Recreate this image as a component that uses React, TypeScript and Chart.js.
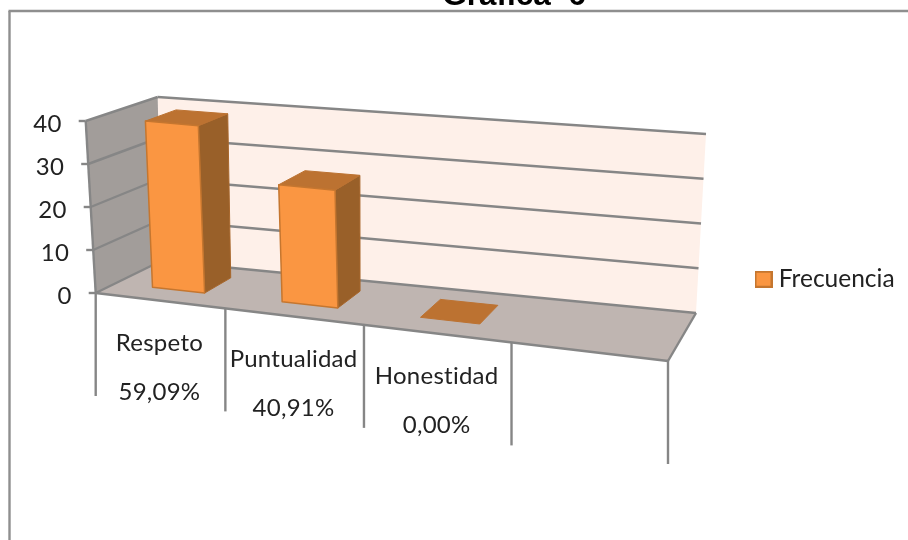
import React, { useEffect, useRef } from "react";
import { Chart, registerables } from "chart.js";

Chart.register(...registerables);

const categories = ["Respeto", "Puntualidad", "Honestidad", ""];
const percentages = ["59,09%", "40,91%", "0,00%", ""];
const frecuencia = [39, 27, 0, null];
const seriesName = "Frecuencia";
const chartTitle = "Gráfica  6";

// 3D box of the plot (pixel corners of the projection)
const box = {
  f0: [95.7, 293], f1: [668, 361], b0: [161, 261], b1: [696, 313],
  ft0: [85.7, 121], ft1: [666, 177], bt0: [157.7, 97], bt1: [706, 134],
};
const BAR_D0 = 0.31;
const BAR_D1 = 0.75;
const GRID = "#868686";
const TEXT = "#222222";
const BAR_FILL = "#FA9642";
const BAR_EDGE = "#C5762F";

type Pt = number[];
const mix = (a: Pt, b: Pt, t: number): Pt => [a[0] + (b[0] - a[0]) * t, a[1] + (b[1] - a[1]) * t];
const warp = (u: number) => u * (0.875 + 0.125 * u);
function project(u: number, v: number, d: number): Pt {
  const w = warp(u);
  const front0 = mix(box.f0, box.f1, w);
  const front1 = mix(box.ft0, box.ft1, w);
  const back0 = mix(box.b0, box.b1, w);
  const back1 = mix(box.bt0, box.bt1, w);
  return mix(mix(front0, back0, d), mix(front1, back1, d), v);
}

function poly(ctx: CanvasRenderingContext2D, pts: Pt[], fill: string, stroke?: string, lw = 1) {
  ctx.beginPath();
  pts.forEach((p, i) => (i ? ctx.lineTo(p[0], p[1]) : ctx.moveTo(p[0], p[1])));
  ctx.closePath();
  ctx.fillStyle = fill;
  ctx.fill();
  if (stroke) {
    ctx.strokeStyle = stroke;
    ctx.lineWidth = lw;
    ctx.lineJoin = "round";
    ctx.stroke();
  }
}
function seg(ctx: CanvasRenderingContext2D, a: Pt, b: Pt, color = GRID, lw = 2.4) {
  ctx.beginPath();
  ctx.moveTo(a[0], a[1]);
  ctx.lineTo(b[0], b[1]);
  ctx.strokeStyle = color;
  ctx.lineWidth = lw;
  ctx.stroke();
}

function legendSwatch() {
  const c = document.createElement("canvas");
  c.width = 18;
  c.height = 17;
  const g = c.getContext("2d")!;
  g.fillStyle = BAR_FILL;
  g.fillRect(0, 0, 18, 17);
  g.strokeStyle = BAR_EDGE;
  g.lineWidth = 2;
  g.strokeRect(1, 1, 16, 15);
  return c;
}

const scene3d = {
  id: "scene3d",
  beforeDraw(chart: any) {
    // place the native legend where the reference has it
    const lg = chart.legend;
    const h = lg.bottom - lg.top;
    const w = lg.right - lg.left;
    lg.left = 750.5;
    lg.right = 750.5 + w;
    lg.top = 257;
    lg.bottom = 257 + h;
  },
  beforeDatasetsDraw(chart: any) {
    const { ctx, chartArea: ca, scales } = chart;
    const xs = scales.x;
    const ys = scales.y;
    ctx.save();
    // frame
    seg(ctx, [9.5, 540], [9.5, 11], "#8f8f8f", 2.4);
    seg(ctx, [8.5, 11], [908, 11], "#8f8f8f", 2.4);
    // title
    ctx.fillStyle = "#000";
    ctx.font = "bold 31.5px 'Liberation Sans'";
    ctx.textAlign = "center";
    ctx.textBaseline = "alphabetic";
    ctx.fillText(chartTitle, 514, 5);

    // walls
    poly(ctx, [project(0, 0, 1), project(1, 0, 1), project(1, 1, 1), project(0, 1, 1)], "#FEF0E9");
    poly(ctx, [project(0, 0, 0), project(0, 0, 1), project(0, 1, 1), project(0, 1, 0)], "#A29D9A");
    poly(ctx, [project(0, 0, 0), project(1, 0, 0), project(1, 0, 1), project(0, 0, 1)], "#BFB5B1");

    // grid and value axis
    const yMax = ys.max;
    ctx.font = "24px Lato";
    (ctx as any).letterSpacing = "0.25px";
    ctx.textBaseline = "middle";
    ctx.textAlign = "right";
    for (const t of ys.ticks) {
      const v = t.value / yMax;
      const front = project(0, v, 0);
      const back = project(0, v, 1);
      seg(ctx, front, back);
      seg(ctx, back, project(1, v, 1));
      seg(ctx, front, [front[0] - 7, front[1]]);
      ctx.fillStyle = TEXT;
      ctx.fillText(String(t.value), front[0] - 24, front[1] + 3);
    }
    seg(ctx, project(0, 0, 0), project(0, 1, 0));
    seg(ctx, project(0, 0, 0), project(1, 0, 0));
    seg(ctx, project(1, 0, 0), project(1, 0, 1));

    // category dividers and labels
    const n = categories.length;
    ctx.textAlign = "center";
    ctx.textBaseline = "alphabetic";
    for (let i = 0; i <= n; i++) {
      const p = project(i / n, 0, 0);
      seg(ctx, p, [p[0], p[1] + 103]);
    }
    categories.forEach((c, i) => {
      const cx = xs.getPixelForTick(i);
      const p = project((cx - ca.left) / ca.width, 0, 0);
      ctx.fillStyle = TEXT;
      ctx.fillText(c, p[0], p[1] + 50.5);
      ctx.fillText(percentages[i], p[0], p[1] + 99.5);
    });
    (ctx as any).letterSpacing = "0px";

    // bars, from the bar elements the library laid out
    const ds = chart.data.datasets[0];
    chart.getDatasetMeta(0).data.forEach((el: any, i: number) => {
      if (ds.data[i] == null) return;
      const u0 = (el.x - el.width / 2 - ca.left) / ca.width;
      const u1 = (el.x + el.width / 2 - ca.left) / ca.width;
      const v = ys.getValueForPixel(el.y) / yMax;
      const at = (u: number, vv: number, d: number) => project(u, vv, d);
      const top = [at(u0, v, BAR_D0), at(u1, v, BAR_D0), at(u1, v, BAR_D1), at(u0, v, BAR_D1)];
      if (v > 0) {
        poly(ctx, [at(u1, 0, BAR_D0), at(u1, 0, BAR_D1), at(u1, v, BAR_D1), at(u1, v, BAR_D0)], "#996029", "#A8672C", 1);
      }
      poly(ctx, top, "#BC7231", "#BC7231", 1);
      if (v > 0) {
        poly(ctx, [at(u0, 0, BAR_D0), at(u1, 0, BAR_D0), at(u1, v, BAR_D0), at(u0, v, BAR_D0)], ds.backgroundColor, ds.borderColor, 1.5);
      }
    });
    ctx.restore();
    return false;
  },
};

export default function App() {
  const ref = useRef<HTMLCanvasElement>(null);
  useEffect(() => {
    const chart = new Chart(ref.current!, {
      type: "bar",
      data: {
        labels: categories,
        datasets: [
          {
            label: seriesName,
            data: frecuencia,
            backgroundColor: BAR_FILL,
            borderColor: BAR_EDGE,
            borderWidth: 2,
            barPercentage: 0.41,
            categoryPercentage: 1,
          },
        ],
      },
      options: {
        animation: false,
        responsive: false,
        layout: { padding: { left: 90, top: 120, right: 0, bottom: 240 } },
        scales: {
          x: { display: false },
          y: { display: false, min: 0, max: 40, ticks: { stepSize: 10 } },
        },
        plugins: {
          tooltip: { enabled: false },
          title: { display: false },
          legend: {
            display: true,
            position: "right",
            align: "start",
            labels: {
              usePointStyle: true,
              pointStyle: legendSwatch(),
              pointStyleWidth: 6,
              boxHeight: 16,
              padding: 10,
              color: TEXT,
              font: { family: "Lato", size: 24.5 },
            },
          },
        },
      },
      plugins: [scene3d],
    } as any);
    return () => chart.destroy();
  }, []);
  return (
    <div style={{ position: "absolute", left: 0, top: 0, width: 908, height: 540, background: "#fff" }}>
      <canvas ref={ref} width={908} height={540} style={{ display: "block" }} />
    </div>
  );
}
